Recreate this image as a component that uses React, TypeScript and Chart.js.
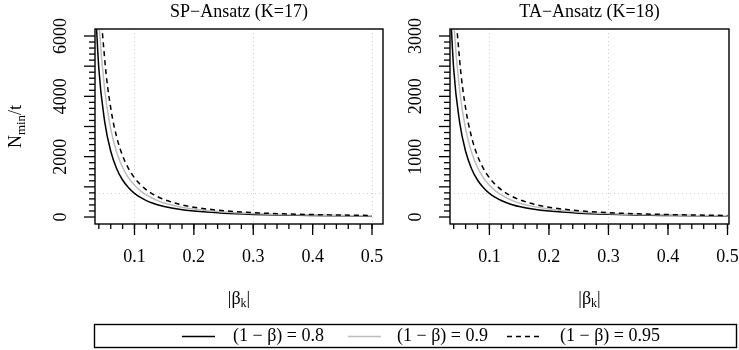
import React, { useEffect, useRef } from "react";
import { Chart, registerables } from "chart.js";
Chart.register(...registerables);

// ---- data ----
const betaValues = [0.03, 0.04, 0.05, 0.06, 0.07, 0.08, 0.09, 0.1, 0.11, 0.12, 0.13, 0.14, 0.15, 0.175, 0.2, 0.25, 0.3, 0.35, 0.4, 0.45, 0.5];

const spPower80 = [8721, 4906, 3140, 2180, 1602, 1226, 969, 785, 649, 545, 464, 400, 349, 256, 196, 126, 87, 64, 49, 39, 31];
const spPower90 = [11674, 6567, 4203, 2919, 2144, 1642, 1297, 1051, 868, 730, 622, 536, 467, 343, 263, 168, 117, 86, 66, 52, 42];
const spPower95 = [14439, 8122, 5198, 3610, 2652, 2030, 1604, 1300, 1074, 902, 769, 663, 578, 424, 325, 208, 144, 106, 81, 64, 52];

const taPower80 = [4361, 2453, 1570, 1090, 801, 613, 484, 392, 324, 273, 232, 200, 174, 128, 98, 63, 44, 32, 25, 19, 16];
const taPower90 = [5837, 3283, 2101, 1459, 1072, 821, 649, 525, 434, 365, 311, 268, 233, 172, 131, 84, 58, 43, 33, 26, 21];
const taPower95 = [7219, 4061, 2599, 1805, 1326, 1015, 802, 650, 537, 451, 384, 331, 289, 212, 162, 104, 72, 53, 41, 32, 26];

const xTickValues = [0.1, 0.2, 0.3, 0.4, 0.5];
const xTickLabels = ["0.1", "0.2", "0.3", "0.4", "0.5"];
const xMinorStep = 0.02;
const xGridValues = [0.1, 0.3, 0.5];

const spYTicks = [0, 2000, 4000, 6000];
const spYTickLabels = ["0", "2000", "4000", "6000"];
const taYTicks = [0, 1000, 2000, 3000];
const taYTickLabels = ["0", "1000", "2000", "3000"];

const spRefLine = 785;
const taRefLine = 392;

const panelTitles = ["SP\u2212Ansatz (K=17)", "TA\u2212Ansatz (K=18)"];
const legendLabels = ["(1 \u2212 \u03B2) = 0.8", "(1 \u2212 \u03B2) = 0.9", "(1 \u2212 \u03B2) = 0.95"];

// ---- styling ----
const FONT = '"Liberation Serif", "DejaVu Serif", serif';
const GREY = "#bdbdbd";
const GRID = "#cfcfcf";
const W = 739;
const H = 350;

type PanelCfg = {
  title: string;
  series: number[][];
  yTicks: number[];
  yTickLabels: string[];
  yMinor: number;
  yMid: number;
  yMax: number;
  ref: number;
  left: number;
  right: number;
  xMin: number;
  xMax: number;
  yMin: number;
  yMaxAxis: number;
  yTitle: boolean;
  legend: boolean;
};

const panels: PanelCfg[] = [
  {
    title: panelTitles[0],
    series: [spPower80, spPower90, spPower95],
    yTicks: spYTicks,
    yTickLabels: spYTickLabels,
    yMinor: 200,
    yMid: 1000,
    yMax: 6000,
    ref: spRefLine,
    left: 95,
    right: 383,
    xMin: 0.0335,
    xMax: 0.5185,
    yMin: -232,
    yMaxAxis: 6232,
    yTitle: true,
    legend: false,
  },
  {
    title: panelTitles[1],
    series: [taPower80, taPower90, taPower95],
    yTicks: taYTicks,
    yTickLabels: taYTickLabels,
    yMinor: 100,
    yMid: 500,
    yMax: 3000,
    ref: taRefLine,
    left: 450,
    right: 729,
    xMin: 0.0338,
    xMax: 0.5025,
    yMin: -116,
    yMaxAxis: 3116,
    yTitle: false,
    legend: true,
  },
];

const TOP = 29;
const BOTTOM = 224;

function line(ctx: CanvasRenderingContext2D, x1: number, y1: number, x2: number, y2: number) {
  ctx.beginPath();
  ctx.moveTo(x1, y1);
  ctx.lineTo(x2, y2);
  ctx.stroke();
}

function makePlugin(cfg: PanelCfg) {
  return {
    id: "panelDecor",
    beforeDatasetsDraw(chart: any) {
      const { ctx, chartArea: a, scales } = chart;
      const x = scales.x;
      const y = scales.y;
      ctx.save();
      ctx.strokeStyle = GRID;
      ctx.lineWidth = 1;
      ctx.setLineDash([1, 3]);
      for (const g of xGridValues) {
        const px = Math.round(x.getPixelForValue(g)) + 0.5;
        line(ctx, px, a.top, px, a.bottom);
      }
      const py = Math.round(y.getPixelForValue(cfg.ref)) + 0.5;
      line(ctx, a.left, py, a.right, py);
      ctx.restore();
    },
    afterDraw(chart: any) {
      const { ctx, chartArea: a, scales } = chart;
      const x = scales.x;
      const y = scales.y;
      ctx.save();
      ctx.strokeStyle = "#000";
      ctx.fillStyle = "#000";
      ctx.setLineDash([]);
      // box
      ctx.lineWidth = 1.4;
      ctx.strokeRect(a.left, a.top, a.right - a.left, a.bottom - a.top);

      // x ticks
      ctx.lineWidth = 1.3;
      const nMinor = Math.round((0.5 - 0.04) / xMinorStep);
      for (let i = 0; i <= nMinor; i++) {
        const v = 0.04 + i * xMinorStep;
        const px = x.getPixelForValue(v);
        line(ctx, px, a.bottom, px, a.bottom + 5);
      }
      for (const v of xTickValues) {
        const px = x.getPixelForValue(v);
        line(ctx, px, a.bottom, px, a.bottom + 11);
      }
      ctx.font = `18px ${FONT}`;
      ctx.textAlign = "center";
      ctx.textBaseline = "middle";
      xTickValues.forEach((v, i) => {
        ctx.fillText(xTickLabels[i], x.getPixelForValue(v), 257);
      });

      // y ticks
      for (let v = 0; v <= cfg.yMax + 1e-6; v += cfg.yMinor) {
        const py = y.getPixelForValue(v);
        const isMid = Math.abs(v / cfg.yMid - Math.round(v / cfg.yMid)) < 1e-6;
        line(ctx, a.left, py, a.left - (isMid ? 11 : 6), py);
      }
      cfg.yTicks.forEach((v, i) => {
        const py = y.getPixelForValue(v);
        ctx.save();
        ctx.translate(a.left - 34, py);
        ctx.rotate(-Math.PI / 2);
        ctx.textAlign = "center";
        ctx.textBaseline = "middle";
        ctx.fillText(cfg.yTickLabels[i], 0, 0);
        ctx.restore();
      });

      // title
      ctx.font = `18px ${FONT}`;
      ctx.textAlign = "center";
      ctx.textBaseline = "middle";
      ctx.fillText(cfg.title, (a.left + a.right) / 2, 12);

      // x title |β_k|
      {
        const cx = (a.left + a.right) / 2;
        const big = `18px ${FONT}`;
        const small = `12px ${FONT}`;
        ctx.textAlign = "left";
        ctx.textBaseline = "alphabetic";
        ctx.font = big;
        const w1 = ctx.measureText("|\u03B2").width;
        const w3 = ctx.measureText("|").width;
        ctx.font = small;
        const w2 = ctx.measureText("k").width;
        let sx = cx - (w1 + w2 + w3) / 2;
        const by = 304;
        ctx.font = big;
        ctx.fillText("|\u03B2", sx, by);
        sx += w1;
        ctx.font = small;
        ctx.fillText("k", sx, by + 3);
        sx += w2;
        ctx.font = big;
        ctx.fillText("|", sx, by);
      }

      // y title N_min/t
      if (cfg.yTitle) {
        ctx.save();
        ctx.translate(21, (a.top + a.bottom) / 2);
        ctx.rotate(-Math.PI / 2);
        const big = `18px ${FONT}`;
        const small = `13px ${FONT}`;
        ctx.textAlign = "left";
        ctx.textBaseline = "alphabetic";
        ctx.font = big;
        const wN = ctx.measureText("N").width;
        const wT = ctx.measureText("/t").width;
        ctx.font = small;
        const wM = ctx.measureText("min").width;
        let sx = -(wN + wM + wT) / 2;
        ctx.font = big;
        ctx.fillText("N", sx, 0);
        sx += wN;
        ctx.font = small;
        ctx.fillText("min", sx, 4);
        sx += wM;
        ctx.font = big;
        ctx.fillText("/t", sx, 0);
        ctx.restore();
      }

      // legend
      if (cfg.legend) {
        ctx.lineWidth = 1.4;
        ctx.strokeRect(94.5, 324.5, 642, 23);
        const ly = 336.5;
        const items = [
          { x1: 182, x2: 215, tx: 233, color: "#000", dash: [] as number[] },
          { x1: 348, x2: 381, tx: 397, color: GREY, dash: [] as number[] },
          { x1: 507, x2: 540, tx: 560, color: "#000", dash: [5, 4] },
        ];
        items.forEach((it, i) => {
          ctx.strokeStyle = it.color;
          ctx.setLineDash(it.dash);
          ctx.lineWidth = 1.5;
          line(ctx, it.x1, ly, it.x2, ly);
          ctx.setLineDash([]);
          ctx.font = `18px ${FONT}`;
          ctx.textAlign = "left";
          ctx.textBaseline = "middle";
          ctx.fillStyle = "#000";
          ctx.fillText(legendLabels[i], it.tx, ly);
        });
      }
      ctx.restore();
    },
  };
}

function Panel({ cfg }: { cfg: PanelCfg }) {
  const ref = useRef<HTMLCanvasElement | null>(null);
  useEffect(() => {
    if (!ref.current) return;
    const styles = [
      { color: "#000", dash: [] as number[] },
      { color: GREY, dash: [] as number[] },
      { color: "#000", dash: [5, 4] },
    ];
    const chart = new Chart(ref.current, {
      type: "line",
      data: {
        datasets: cfg.series.map((s, i) => ({
          data: betaValues.map((b, j) => ({ x: b, y: s[j] })),
          borderColor: styles[i].color,
          borderDash: styles[i].dash,
          borderWidth: 1.5,
          pointRadius: 0,
          cubicInterpolationMode: "monotone" as const,
          fill: false,
          clip: 0,
          order: 3 - i,
        })),
      },
      options: {
        responsive: false,
        animation: false,
        events: [],
        layout: {
          padding: { left: cfg.left, right: W - cfg.right, top: TOP, bottom: H - BOTTOM },
        },
        plugins: { legend: { display: false }, tooltip: { enabled: false } },
        scales: {
          x: { type: "linear", display: false, min: cfg.xMin, max: cfg.xMax },
          y: { type: "linear", display: false, min: cfg.yMin, max: cfg.yMaxAxis },
        },
      },
      plugins: [makePlugin(cfg)],
    });
    return () => chart.destroy();
  }, [cfg]);
  return (
    <canvas
      ref={ref}
      width={W}
      height={H}
      style={{ position: "absolute", left: 0, top: 0, width: W, height: H }}
    />
  );
}

export default function App() {
  return (
    <div style={{ position: "absolute", left: 0, top: 0, width: W, height: H, background: "#fff" }}>
      {panels.map((p, i) => (
        <Panel key={i} cfg={p} />
      ))}
    </div>
  );
}
